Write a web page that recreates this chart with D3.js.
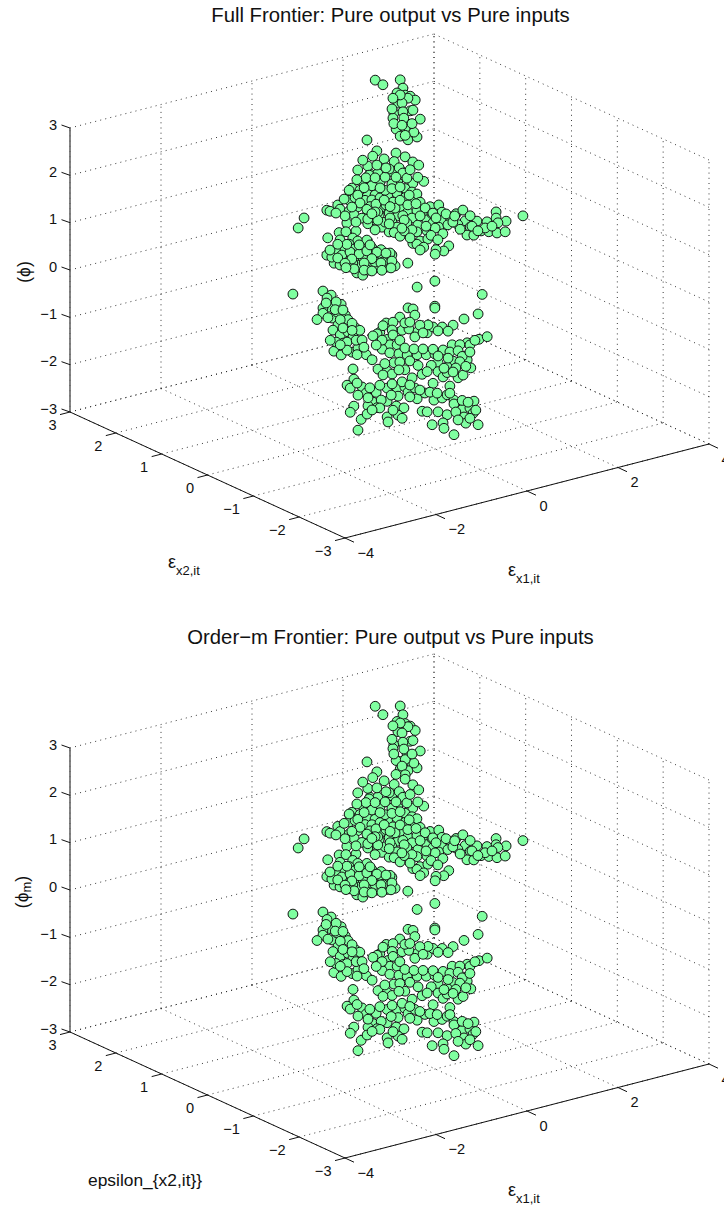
<!DOCTYPE html>
<html><head><meta charset="utf-8">
<style>html,body{margin:0;padding:0;background:#fff;overflow:hidden}svg{display:block}
text{font-family:"Liberation Sans",Arial,sans-serif;fill:#111}</style>
<script src="https://cdn.jsdelivr.net/npm/d3@7"></script></head><body>
<svg id="c" width="724" height="1209"></svg>
<script>
// Axis ticks
const x1Ticks = [-4,-2,0,2,4];
const x2Ticks = [-3,-2,-1,0,1,2,3];
const zTicks  = [-3,-2,-1,0,1,2,3];
const titles = ["Full Frontier: Pure output vs Pure inputs","Order\u2212m Frontier: Pure output vs Pure inputs"];

// Values. Depth cannot be recovered from one projection,
// so each group of points is assigned one estimated epsilon_x2 level.
const stemX2 = 2;
const stemX1 = [1.70,1.87,2.25,2.31,2.18,2.36,2.47,2.58,2.20,2.42,
 2.29,2.11,2.47,2.31,2.09,2.07,2.40,2.69,2.22,2.16,
 2.25,2.51,2.42,2.62,2.55,1.52,2.36,
 2.25,2.11,2.33,2.53,2.51,2.29,2.36,2.09];
const stemPhi = [3.04,2.90,2.91,2.72,2.65,2.56,2.51,2.40,2.43,2.48,
 2.41,2.24,2.20,2.22,2.14,2.34,1.94,1.97,1.86,1.89,
 1.72,1.70,1.60,1.61,1.73,1.82,1.87,
 2.59,2.02,2.08,2.20,1.92,1.94,1.71,2.56];
const stemPhiM = [2.91,2.69,2.78,2.58,2.47,2.38,2.30,2.18,2.25,2.30,
 2.20,2.00,1.98,2.00,1.92,2.12,1.70,1.72,1.62,1.65,
 1.45,1.48,1.37,1.38,1.50,1.78,1.62,
 2.42,1.80,1.85,1.98,1.70,1.50,1.30,2.40];

const blobX2 = 1;
const blobX1 = [.31,.58,.75,1.06,1.28,.42,1.76,1.52,1.19,1.06,
 .80,.18,1.35,1.50,1.61,.51,.36,.69,.14,.97,
 1.17,.12,.25,.47,.62,.80,1.08,1.35,1.50,1.68,
 1.90,2.09,-.13,-.37,-.30,-.08,.12,.31,.53,.84,
 1.00,1.24,1.41,1.61,1.81,2.16,2.47,2.62,3.35,3.94,
 .23,.40,.64,.78,1.19,1.50,1.83,1.96,2.18,2.34,
 2.67,2.93,3.15,3.35,3.57,3.39,.07,.84,1.06,1.39,
 1.63,1.83,2.09,2.29,2.51,2.78,3.02,3.19,3.37,3.55,
 2.71,2.86,2.18,1.17,1.00,1.11,1.24,1.61,1.68,1.85,
 1.52,1.61,.62,.27,-.10,.05,-.35,.20,-.08,.31,
 .12,.51,2.31,2.20,2.03,2.01,1.41,-.87,-1.00,-.37,
 -.15,.03,.23,.42,.62,.82,.64,-.21,-.08,.07,
 .29,.53,.73,.97,1.06,.86,.12,.29,.42,.73,
 .95,1.13,.56,.36,.18,-.02,.86,1.02,.42,.69,
 -.26,.20,.53,.73,.64,.89,1.15,1.35,1.52,.53,
 .73,1.11,1.22,.56,1.00,.42,1.30,1.65,.62,.91,
 .31,.58,.75,.93,1.13,1.30,1.24,1.41,.91,.53,
 .69,1.94,
 .49,.69,.91,1.15,1.39,.29,.80,1.06,1.24,1.44,
 .45,.01,.36,.18,.71,.51,.89,1.02,1.59,1.79,
 1.96,.03,-.17,.53,.27,.75,1.02,1.33,1.68,2.03,
 2.25,2.40,2.01,1.81,1.50,1.33,1.46,1.92,2.07,1.76,
 1.68,2.82,3.11,3.26,2.95,2.56,2.44,2.78,1.00,.69,
 1.28,.93,1.46,1.63,.12,.62,
 -.30,-.04,.14,.34,.51,.73,.93,-.13,.18,.62,
 .03,.45,.82,1.06,.23,.05,.45,.62,.84,1.04,.34,.58,.07,-.13];
const blobPhi = [1.93,1.78,1.75,1.71,1.65,1.66,1.33,1.35,1.45,1.45,
 1.55,1.58,1.28,1.17,1.10,1.39,1.49,1.31,1.49,1.24,
 1.23,1.34,1.36,1.25,1.22,1.22,1.06,1.09,.96,.91,
 .76,.75,1.30,1.25,1.21,1.20,1.11,1.15,.97,1.02,
 .85,.92,.77,.74,.67,.58,.47,.51,.29,.06,
 1.00,.89,.81,.87,.74,.62,.50,.40,.41,.43,
 .27,.20,.13,.16,.04,.05,.87,.59,.65,.54,
 .44,.27,.28,.28,.23,.11,-.03,-.09,-.16,-.18,
 -.04,-.08,.12,.51,.45,.41,.30,.30,.09,.09,
 .08,.04,.80,.65,.71,.69,.66,.52,.55,.43,
 .41,.40,-.17,-.25,-.18,-.27,-.31,1.21,1.03,.30,
 .34,.31,.28,.23,.21,.12,.11,.09,.02,.15,
 .04,.04,-.01,-.11,-.05,-.04,-.07,-.24,-.32,-.24,
 -.28,-.30,-.14,-.09,.20,.13,-.15,0,.06,-.11,
 .23,-.01,-.24,2.23,2.14,2.02,2.08,1.95,1.80,1.96,
 1.93,1.91,1.75,1.76,1.78,2.11,1.62,1.70,1.52,1.35,
 1.40,1.09,.93,1.04,.92,.72,1.06,.92,.68,.74,
 .57,.60,
 1.72,1.67,1.63,1.57,1.49,1.73,1.43,1.35,1.34,1.12,
 1.52,1.39,1.22,1.18,1.11,1.05,1.15,.98,.90,.76,
 .61,1.03,1.14,.84,.84,.76,.74,.62,.62,.49,
 .52,.31,.28,.37,.37,.39,.21,.15,.02,-.06,
 -.10,.12,.01,.01,-.01,.12,.43,.35,.62,.95,
 .46,1.82,1.65,1.45,1.55,.93,
 .39,.22,.24,.15,.17,.09,.02,.18,.08,-.02,
 .03,-.07,-.16,-.18,-.14,-.07,-.22,-.28,-.32,-.32,.34,.28,.42,.47];
const blobPhiM = [1.87,1.71,1.67,1.62,1.57,1.57,1.23,1.25,1.35,1.36,
 1.46,1.49,1.18,1.07,1.00,1.30,1.40,1.22,1.42,1.14,
 1.13,1.30,1.30,1.16,1.12,1.12,.96,.99,.86,.80,
 .66,.64,1.27,1.22,1.17,1.15,1.05,1.07,.87,.92,
 .75,.82,.67,.64,.56,.47,.37,.41,.15,-.04,
 .93,.80,.71,.77,.63,.52,.40,.30,.30,.33,
 .17,.10,.03,.02,-.06,-.05,.80,.48,.55,.44,
 .34,.16,.18,.18,.13,.02,-.13,-.19,-.26,-.27,
 -.14,-.18,.02,.41,.34,.30,.18,.20,-.03,-.02,
 -.03,-.07,.70,.59,.66,.63,.62,.47,.50,.38,
 .36,.33,-.27,-.35,-.32,-.41,-.48,1.19,1.03,.27,
 .30,.27,.24,.19,.17,.08,.07,.05,-.02,.11,
 .00,-.01,-.05,-.15,-.10,-.09,-.11,-.28,-.36,-.29,
 -.33,-.35,-.18,-.13,.16,.09,-.20,-.05,.02,-.16,
 .19,-.05,-.28,2.21,2.11,1.98,2.05,1.90,1.74,1.91,
 1.87,1.85,1.67,1.68,1.70,2.07,1.53,1.60,1.43,1.26,
 1.31,1.00,.83,.94,.82,.62,.96,.82,.58,.65,
 .47,.50,
 1.62,1.57,1.53,1.47,1.39,1.64,1.33,1.25,1.24,1.02,
 1.42,1.30,1.13,1.09,1.01,.95,1.05,.88,.80,.66,
 .51,.97,1.10,.74,.76,.66,.64,.52,.52,.39,
 .42,.21,.18,.27,.27,.29,.10,.04,-.09,-.18,
 -.22,.02,-.09,-.09,-.11,.02,.33,.25,.52,.85,
 .36,1.74,1.55,1.35,1.47,.83,
 .35,.18,.20,.11,.13,.05,-.02,.14,.04,-.06,
 -.01,-.11,-.20,-.22,-.18,-.11,-.26,-.32,-.36,-.36,.30,.24,.38,.43];

const lowX2 = -1;
const lowX1 = [-3.13,-.40,-.01,-2.47,-2.29,-2.07,-2.31,-2.47,-2.47,-2.27,
 -2.60,-2.16,-1.98,-1.92,-1.76,-2.14,-2.25,-2.09,-1.92,-1.66,
 -1.81,-2.03,-2.23,-2.07,-1.83,-1.70,-1.52,-1.39,-1.72,-.60,
 -.49,-.45,-.01,-.01,1.03,.94,.63,.96,1.14,.70,
 -1.08,-.78,-.73,-.58,-.38,-.18,-.45,-.05,.15,.39,
 -.93,-.67,-1.22,-1.28,-1.37,-.16,-1.04,-1.00,-.84,-1.17,
 -1.00,-.80,-.62,-.56,-.40,-.20,-.01,.17,.37,.54,
 .65,.70,.78,.39,.06,-.09,.26,-1.26,-1.06,-.91,
 -.95,-.67,-.51,-.29,-.05,.06,.17,.32,.50,.61,
 .26,-1.81,-1.79,-1.94,-1.87,-1.61,-1.52,-1.30,-1.70,-1.06,
 -.84,-.67,-.82,-.60,-1.06,-1.37,-1.48,-1.19,-.40,-.23,
 -.03,.15,-.45,.26,.41,-1.79,-1.87,-1.63,-1.70,-1.50,
 -1.06,-1.04,-1.28,-.86,-.69,-.82,-.73,-.29,-.18,.06,
 .26,.41,.59,.76,.85,.83,.63,.67,.94,-.07,
 .17,.19,.41,.59,
 -2.38,-2.18,-2.40,-2.20,-2.03,-2.36,-2.09,-1.83,-2.03,-1.83,
 -2.18,-1.94,-1.74,-1.61,-1.94,-1.57,-2.09,-2.31,
 -1.15,-.95,-.56,-.34,.06,.28,-.27,-.93,-1.17,-.78,
 -.67,-1.30,-.47,-.27,-.05,.32,.50,.76,.87,.59,
 .76,.54,.28,.06,.45,.67,.39,.19,-1.11,-.78,
 -.80,-1.15,-.38,-.18,
 -1.72,-1.44,-1.22,-.95,-.73,-.56,-.34,-.12,.04,.32,
 -.97,-1.48,-.56,-1.22,-.93,-1.39,.72,.45,.89,.76,.50];
const lowPhi = [1.05,.52,.55,.95,.82,.57,.57,.59,.48,.33,
 .38,.43,.32,.21,0,.15,.07,-.07,-.05,-.08,
 -.18,-.26,-.38,-.50,-.50,-.45,-.63,-.77,-.58,.13,
 .08,-.06,.02,-.02,.01,-.38,-.41,-.92,-.91,-.93,
 -.07,-.02,-.31,-.32,-.42,-.50,-.52,-.41,-.46,-.48,
 -.09,-.17,-.23,-.25,-.27,-.34,-.42,-.55,-.59,-.60,
 -.72,-.79,-.86,-1.00,-.91,-.96,-.99,-.95,-.89,-.93,
 -1.20,-1.29,-1.48,-1.24,-1.19,-1.21,-1.33,-1.00,-1.09,-.95,
 -1.18,-1.16,-1.37,-1.35,-1.60,-1.38,-1.52,-1.75,-1.62,-1.59,
 -1.45,-.86,-1.08,-1.17,-1.25,-1.29,-1.44,-1.48,-1.44,-1.45,
 -1.50,-1.52,-1.68,-1.65,-1.73,-1.67,-1.72,-1.67,-1.84,-1.76,
 -1.96,-1.96,-1.60,-1.92,-2.07,-1.65,-1.76,-1.97,-2.18,-1.89,
 -2.06,-2.17,-1.81,-1.88,-1.96,-2.08,-2.17,-2.13,-2.17,-2.23,
 -2.34,-2.15,-2.31,-2.32,-2.20,-2.45,-2.48,-2.62,-2.72,-2.47,
 -2.49,-2.61,-2.80,-2.12,
 .78,.65,.68,.49,.44,.36,.25,.11,.06,-.04,
 -.20,-.26,-.27,-.30,-.43,-.46,-.28,-.13,
 -.11,-.25,-.18,-.30,-.52,-.58,-.48,-.36,-.41,-.51,
 -.70,-.48,-.77,-.82,-.88,-1.03,-1.05,-.99,-.92,-1.19,
 -1.14,-1.29,-1.15,-1.05,-1.40,-1.42,-1.47,-1.34,-.92,-.97,
 -1.13,-1.15,-1.14,-1.32,
 -1.18,-1.35,-1.35,-1.39,-1.40,-1.51,-1.67,-1.77,-1.83,-1.90,
 -1.62,-1.55,-1.76,-1.83,-1.95,-1.83,-2.19,-2.33,-2.40,-2.54,-2.51];
const lowPhiM = [1.05,.47,.50,.93,.78,.52,.54,.55,.44,.29,
 .36,.41,.30,.19,-.04,.12,.04,-.10,-.08,-.12,
 -.21,-.29,-.41,-.53,-.53,-.48,-.65,-.78,-.61,.10,
 .05,-.09,-.02,-.06,-.03,-.39,-.44,-.95,-.94,-.96,
 -.10,-.06,-.34,-.35,-.45,-.53,-.55,-.44,-.49,-.51,
 -.12,-.20,-.26,-.28,-.30,-.37,-.45,-.58,-.62,-.63,
 -.75,-.82,-.89,-1.03,-.94,-.99,-1.02,-.98,-.92,-.96,
 -1.23,-1.32,-1.50,-1.27,-1.22,-1.24,-1.36,-1.03,-1.12,-.98,
 -1.21,-1.19,-1.40,-1.38,-1.63,-1.41,-1.55,-1.78,-1.65,-1.62,
 -1.48,-.87,-1.10,-1.19,-1.27,-1.31,-1.46,-1.50,-1.46,-1.48,
 -1.53,-1.55,-1.71,-1.68,-1.76,-1.70,-1.75,-1.70,-1.87,-1.79,
 -1.99,-1.99,-1.63,-1.95,-2.10,-1.67,-1.78,-1.99,-2.19,-1.91,
 -2.08,-2.19,-1.83,-1.90,-1.98,-2.10,-2.19,-2.15,-2.19,-2.25,
 -2.36,-2.17,-2.33,-2.34,-2.22,-2.47,-2.50,-2.64,-2.74,-2.49,
 -2.51,-2.63,-2.82,-2.14,
 .75,.62,.65,.46,.41,.33,.22,.08,.03,-.07,
 -.23,-.29,-.30,-.33,-.46,-.49,-.31,-.16,
 -.14,-.28,-.21,-.33,-.55,-.61,-.51,-.39,-.44,-.54,
 -.73,-.51,-.80,-.85,-.91,-1.06,-1.08,-1.02,-.95,-1.22,
 -1.17,-1.32,-1.18,-1.08,-1.43,-1.45,-1.50,-1.37,-.95,-1.00,
 -1.16,-1.18,-1.17,-1.35,
 -1.21,-1.38,-1.38,-1.42,-1.43,-1.54,-1.70,-1.80,-1.86,-1.93,
 -1.65,-1.58,-1.79,-1.86,-1.98,-1.86,-2.22,-2.36,-2.43,-2.57,-2.54];

const groups = [[stemX2,stemX1,stemPhi,stemPhiM],[blobX2,blobX1,blobPhi,blobPhiM],[lowX2,lowX1,lowPhi,lowPhiM]];

// Oblique projection built from linear scales
const xOfX1 = d3.scaleLinear().domain([-4,4]).range([0,364]);
const yOfX1 = d3.scaleLinear().domain([-4,4]).range([0,-94]);
const xOfX2 = d3.scaleLinear().domain([-3,3]).range([0,-275]);
const yOfX2 = d3.scaleLinear().domain([-3,3]).range([0,-126]);
const yOfZ  = d3.scaleLinear().domain([-3,3]).range([0,-284]);
const OX = 345, OY = 538, PANEL_DY = 620;

const svg = d3.select("#c");
const fmt = v => String(v).replace("-","\u2212");

function panel(i, g){
  const px = (a,b) => OX + xOfX1(a) + xOfX2(b);
  const py = (a,b,c) => OY + yOfX1(a) + yOfX2(b) + yOfZ(c);
  const A=-4,B=4,C=-3,D=3,ZL=-3,ZH=3;
  const gg = g.append("g").attr("fill","none").attr("stroke","#222").attr("stroke-width",0.9).attr("stroke-dasharray","1 4.2");
  const gseg = (p,q)=> gg.append("line")
    .attr("x1",px(p[0],p[1])).attr("y1",py(p[0],p[1],p[2]))
    .attr("x2",px(q[0],q[1])).attr("y2",py(q[0],q[1],q[2]));
  zTicks.forEach(z=>{ gseg([A,D,z],[B,D,z]); gseg([B,D,z],[B,C,z]); });
  x1Ticks.forEach(a=>{ gseg([a,D,ZL],[a,D,ZH]); gseg([a,C,ZL],[a,D,ZL]); });
  x2Ticks.forEach(b=>{ gseg([B,b,ZL],[B,b,ZH]); gseg([A,b,ZL],[B,b,ZL]); });

  const ax = g.append("g").attr("fill","none");
  const aseg=(p,q,w,c)=> ax.append("line").attr("stroke-width",w||1).attr("stroke",c||"#111")
    .attr("x1",px(p[0],p[1])).attr("y1",py(p[0],p[1],p[2]))
    .attr("x2",px(q[0],q[1])).attr("y2",py(q[0],q[1],q[2]));
  aseg([A,D,ZL],[A,D,ZH],1.6,"#666");
  aseg([A,C,ZL],[A,D,ZL],1);
  aseg([A,C,ZL],[B,C,ZL],1);

  const txt=(x,y,s,anchor)=> g.append("text").attr("x",x).attr("y",y).attr("font-size",14.6)
    .attr("text-anchor",anchor).attr("dominant-baseline","central").text(s);

  zTicks.forEach(z=>{
    const x=px(A,D), y=py(A,D,z);
    g.append("line").attr("x1",x).attr("y1",y).attr("x2",x-8.5).attr("y2",y-3).attr("stroke","#111");
    txt(x-13,y-3.5,fmt(z),"end");
  });
  x2Ticks.forEach(b=>{
    const x=px(A,b), y=py(A,b,ZL);
    g.append("line").attr("x1",x).attr("y1",y).attr("x2",x-10).attr("y2",y+2.6).attr("stroke","#111");
    txt(x-13.5,y+12.5,fmt(b),"end");
  });
  x1Ticks.forEach(a=>{
    const x=px(a,C), y=py(a,C,ZL);
    g.append("line").attr("x1",x).attr("y1",y).attr("x2",x+9).attr("y2",y+4.2).attr("stroke","#111");
    txt(x+12.5,y+14.5,fmt(a),"start");
  });

  const rows=[];
  groups.forEach(gr=>{ gr[1].forEach((v,k)=>rows.push({x1:v,x2:gr[0],z:gr[2+i][k]})); });
  g.append("g").selectAll("circle").data(rows).join("circle")
    .attr("cx",d=>px(d.x1,d.x2)).attr("cy",d=>py(d.x1,d.x2,d.z)).attr("r",4.9)
    .attr("fill","#7fffa0").attr("stroke","#111").attr("stroke-width",1);

  g.append("text").attr("class","ttl").attr("x",390.5).attr("y",i?17:15).attr("text-anchor","middle").attr("dominant-baseline","central")
    .attr("font-size",20.3).text(titles[i]);
}

const g0 = svg.append("g"); panel(0,g0);
const g1 = svg.append("g").attr("transform",`translate(0,${PANEL_DY})`); panel(1,g1);

function sub(g,x,y,base,s){
  const t=g.append("text").attr("x",x).attr("y",y).attr("font-size",18);
  t.append("tspan").text(base);
  t.append("tspan").attr("font-size",13).attr("dy",7).text(s);
}
sub(g0,168,568,"\u03b5","x2,it");
sub(g0,508,576,"\u03b5","x1,it");
sub(g1,508,576,"\u03b5","x1,it");
g1.append("text").attr("x",88).attr("y",560).attr("dominant-baseline","central").attr("font-size",17.4).text("epsilon_{x2,it}}");

g0.append("text").attr("transform","translate(24,272) rotate(-90)").attr("text-anchor","middle").attr("dominant-baseline","central").attr("font-size",17.5).text("(\u03d5)");
const pl=g1.append("text").attr("transform","translate(22,272) rotate(-90)").attr("text-anchor","middle").attr("dominant-baseline","central").attr("font-size",17.5);
pl.append("tspan").text("(\u03d5");
pl.append("tspan").attr("font-size",13).attr("dy",4).text("m");
pl.append("tspan").attr("dy",-4).text(")");
</script></body></html>
